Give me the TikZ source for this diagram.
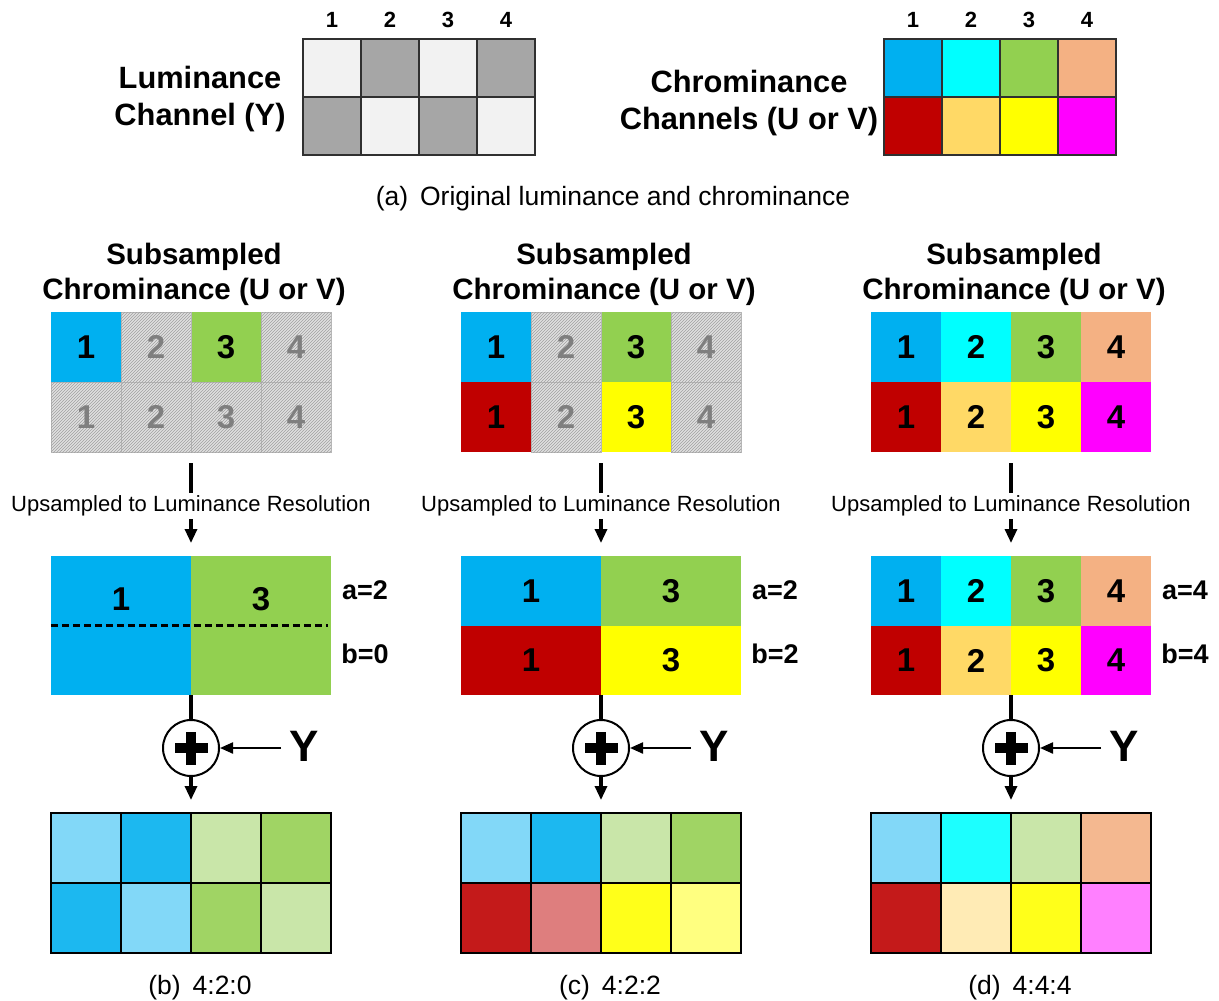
\documentclass[tikz,border=0pt]{standalone}
\usepackage{fontspec}
\setmainfont{Liberation Sans}
\usetikzlibrary{patterns,arrows.meta}
\definecolor{cBlue}{HTML}{00B0F0}
\definecolor{cCyan}{HTML}{00FFFF}
\definecolor{cGreen}{HTML}{92D050}
\definecolor{cPeach}{HTML}{F4B183}
\definecolor{cRed}{HTML}{C00000}
\definecolor{cLYel}{HTML}{FFD966}
\definecolor{cYel}{HTML}{FFFF00}
\definecolor{cMag}{HTML}{FF00FF}
\definecolor{oLBlue}{HTML}{82D8F8}
\definecolor{oBlue}{HTML}{1CB8F0}
\definecolor{oLGreen}{HTML}{C9E6A9}
\definecolor{oGreen}{HTML}{A0D464}
\definecolor{oRed}{HTML}{C41A1A}
\definecolor{oPink}{HTML}{DE7E7E}
\definecolor{oYel}{HTML}{FFFF1A}
\definecolor{oLYel}{HTML}{FFFF80}
\definecolor{oCyan}{HTML}{1CFFFF}
\definecolor{oPeach}{HTML}{F4B890}
\definecolor{oCream}{HTML}{FFEBB5}
\definecolor{oMag}{HTML}{FF80FF}
\definecolor{lumL}{HTML}{F2F2F2}
\definecolor{lumD}{HTML}{A6A6A6}
\definecolor{hatchbg}{HTML}{E0E0E0}
\definecolor{hatchln}{HTML}{A0A0A0}
\definecolor{hatchbd}{HTML}{B8B8B8}
\definecolor{numgray}{HTML}{7F7F7F}
\definecolor{gridln}{HTML}{303030}
\newcommand\myTop{\fontsize{30.8}{37}\selectfont\bfseries}
\newcommand\myTitle{\fontsize{29.5}{35}\selectfont\bfseries}
\newcommand\myNum{\fontsize{33}{40}\selectfont\bfseries}
\newcommand\myCol{\fontsize{22}{26}\selectfont\bfseries}
\newcommand\myCap{\fontsize{26.5}{30}\selectfont}
\newcommand\myUp{\fontsize{22}{26}\selectfont}
\newcommand\myAB{\fontsize{27}{32}\selectfont\bfseries}
\newcommand\myY{\fontsize{44}{50}\selectfont\bfseries}
\begin{document}
\begin{tikzpicture}[x=1pt,y=-1pt,
  cell/.style={rectangle, minimum width=70pt, minimum height=70pt, inner sep=0pt, outer sep=0pt, font=\myNum},
  mcell/.style={cell, minimum height=69.5pt},
  wcell/.style={cell, minimum width=140pt, minimum height=69.5pt},
  hcell/.style={cell, fill=hatchbg, postaction={pattern=north east lines, pattern color=hatchln}, draw=hatchbd, line width=0.6pt, text=numgray},
  gcell/.style={cell, draw=black, line width=1.4pt},
  tcell/.style={rectangle, minimum width=58pt, minimum height=58pt, inner sep=0pt, outer sep=0pt, draw=gridln, line width=1.2pt},
  box/.style={rectangle, inner sep=0pt, outer sep=0pt, minimum width=280pt},
  conn/.style={line width=3.2pt},
  tip/.style={-{Triangle[width=12pt,length=14pt]}},
  ytip/.style={-{Triangle[width=11pt,length=13pt]}},
  plus/.style={circle, draw, line width=2pt, minimum size=56pt, inner sep=0pt, fill=white},
  uptext/.style={font=\myUp, fill=white, inner sep=3pt},
  toplab/.style={font=\myTop, align=center},
  ttl/.style={font=\myTitle, align=center},
  capt/.style={font=\myCap},
  ablab/.style={font=\myAB}
]
\useasboundingbox (0,0) rectangle (1219,1001);

% ---------------- (a) top ----------------
\node[toplab] (lumlab) at (200,99.5) {Luminance\\Channel (Y)};
\foreach \x/\y/\c in {332/68/lumL, 390/68/lumD, 448/68/lumL, 506/68/lumD,
                      332/126/lumD, 390/126/lumL, 448/126/lumD, 506/126/lumL}
  \node[tcell, fill=\c] (lum-\x-\y) at (\x,\y) {};
\foreach \x/\t in {332/1, 390/2, 448/3, 506/4}
  \node[font=\myCol] (lumcol-\t) at (\x,20) {\t};

\node[toplab] (chrlab) at (749,103) {Chrominance\\Channels (U or V)};
\foreach \x/\y/\c in {913/68/cBlue, 971/68/cCyan, 1029/68/cGreen, 1087/68/cPeach,
                      913/126/cRed, 971/126/cLYel, 1029/126/cYel, 1087/126/cMag}
  \node[tcell, fill=\c] (chr-\x-\y) at (\x,\y) {};
\foreach \x/\t in {913/1, 971/2, 1029/3, 1087/4}
  \node[font=\myCol] (chrcol-\t) at (\x,20) {\t};

\node[capt] (capa) at (613,199) {(a)\hspace{0.45em}Original luminance and chrominance};

% ---------------- (b) 4:2:0 ----------------
\node[ttl] (tb) at (194,274) {Subsampled\\Chrominance (U or V)};
\foreach \x/\y/\c/\t in {86/347/cBlue/1, 226/347/cGreen/3}
  \node[cell, fill=\c] (sbc-\x-\y) at (\x,\y) {\t};
\foreach \x/\y/\t in {156/347/2, 296/347/4, 86/417/1, 156/417/2, 226/417/3, 296/417/4}
  \node[hcell] (sbh-\x-\y) at (\x,\y) {\t};
\node[box, minimum height=140pt] (sb) at (191,382) {};

\node[rectangle, fill=cBlue, minimum width=140pt, minimum height=139pt, inner sep=0pt] (mb1) at (121,625.5) {};
\node[rectangle, fill=cGreen, minimum width=140pt, minimum height=139pt, inner sep=0pt] (mb3) at (261,625.5) {};
\node[font=\myNum] (mbn1) at (121,599) {1};
\node[font=\myNum] (mbn3) at (261,599) {3};
\draw[line width=2.2pt, dash pattern=on 7pt off 4pt] (mb1.west) -- ([xshift=-3pt]mb3.east);
\node[box, minimum height=139pt] (mb) at (191,625.5) {};
\node[ablab] (ab-a) at (365,590) {a=2};
\node[ablab] (ab-b) at (365,654) {b=0};

\foreach \x/\y/\c in {86/848/oLBlue, 156/848/oBlue, 226/848/oLGreen, 296/848/oGreen,
                      86/918/oBlue, 156/918/oLBlue, 226/918/oGreen, 296/918/oLGreen}
  \node[gcell, fill=\c] (bb-\x-\y) at (\x,\y) {};
\node[box, minimum height=140pt] (bb) at (191,883) {};
\node[capt] (capb) at (200,988) {(b)\hspace{0.45em}4:2:0};

\node[plus] (pb) at (191,748) {};
\fill (pb.center) +(-16.5,-5) rectangle +(16.5,5);
\fill (pb.center) +(-5,-16.5) rectangle +(5,16.5);
\node[font=\myY, inner sep=0pt] (yb) at (304,746) {Y};

\draw[conn, tip, shorten <=11pt, shorten >=13pt] (sb.south) -- (mb.north);
\node[uptext] (ub) at (191,506) {Upsampled to Luminance Resolution};
\draw[conn] (mb.south) -- (pb.north);
\draw[conn, tip, shorten >=13pt] (pb.south) -- (bb.north);
\draw[line width=2.2pt, ytip, shorten <=8pt] (yb.west |- pb.east) -- (pb.east);

% ---------------- (c) 4:2:2 ----------------
\node[ttl] (tc) at (604,274) {Subsampled\\Chrominance (U or V)};
\foreach \x/\y/\c/\t in {496/347/cBlue/1, 636/347/cGreen/3, 496/417/cRed/1, 636/417/cYel/3}
  \node[cell, fill=\c] (scc-\x-\y) at (\x,\y) {\t};
\foreach \x/\y/\t in {566/347/2, 706/347/4, 566/417/2, 706/417/4}
  \node[hcell] (sch-\x-\y) at (\x,\y) {\t};
\node[box, minimum height=140pt] (sc) at (601,382) {};

\foreach \x/\y/\c/\t in {531/591/cBlue/1, 671/591/cGreen/3, 531/660.5/cRed/1, 671/660.5/cYel/3}
  \node[wcell, fill=\c] (mcc-\x-\y) at (\x,\y) {\t};
\node[box, minimum height=139pt] (mc) at (601,625.5) {};
\node[ablab] (ac-a) at (775,590) {a=2};
\node[ablab] (ac-b) at (775,654) {b=2};

\foreach \x/\y/\c in {496/848/oLBlue, 566/848/oBlue, 636/848/oLGreen, 706/848/oGreen,
                      496/918/oRed, 566/918/oPink, 636/918/oYel, 706/918/oLYel}
  \node[gcell, fill=\c] (bc-\x-\y) at (\x,\y) {};
\node[box, minimum height=140pt] (bc) at (601,883) {};
\node[capt] (capc) at (610,988) {(c)\hspace{0.45em}4:2:2};

\node[plus] (pc) at (601,748) {};
\fill (pc.center) +(-16.5,-5) rectangle +(16.5,5);
\fill (pc.center) +(-5,-16.5) rectangle +(5,16.5);
\node[font=\myY, inner sep=0pt] (yc) at (714,746) {Y};

\draw[conn, tip, shorten <=11pt, shorten >=13pt] (sc.south) -- (mc.north);
\node[uptext] (uc) at (601,506) {Upsampled to Luminance Resolution};
\draw[conn] (mc.south) -- (pc.north);
\draw[conn, tip, shorten >=13pt] (pc.south) -- (bc.north);
\draw[line width=2.2pt, ytip, shorten <=8pt] (yc.west |- pc.east) -- (pc.east);

% ---------------- (d) 4:4:4 ----------------
\node[ttl] (td) at (1014,274) {Subsampled\\Chrominance (U or V)};
\foreach \x/\y/\c/\t in {906/347/cBlue/1, 976/347/cCyan/2, 1046/347/cGreen/3, 1116/347/cPeach/4,
                         906/417/cRed/1, 976/417/cLYel/2, 1046/417/cYel/3, 1116/417/cMag/4}
  \node[cell, fill=\c] (sdc-\x-\y) at (\x,\y) {\t};
\node[box, minimum height=140pt] (sd) at (1011,382) {};

\foreach \x/\y/\c/\t in {906/591/cBlue/1, 976/591/cCyan/2, 1046/591/cGreen/3, 1116/591/cPeach/4,
                         906/660.5/cRed/1, 976/660.5/cLYel/2, 1046/660.5/cYel/3, 1116/660.5/cMag/4}
  \node[mcell, fill=\c] (mdc-\x-\y) at (\x,\y) {\t};
\node[box, minimum height=139pt] (md) at (1011,625.5) {};
\node[ablab] (ad-a) at (1185,590) {a=4};
\node[ablab] (ad-b) at (1185,654) {b=4};

\foreach \x/\y/\c in {906/848/oLBlue, 976/848/oCyan, 1046/848/oLGreen, 1116/848/oPeach,
                      906/918/oRed, 976/918/oCream, 1046/918/oYel, 1116/918/oMag}
  \node[gcell, fill=\c] (bd-\x-\y) at (\x,\y) {};
\node[box, minimum height=140pt] (bd) at (1011,883) {};
\node[capt] (capd) at (1020,988) {(d)\hspace{0.45em}4:4:4};

\node[plus] (pd) at (1011,748) {};
\fill (pd.center) +(-16.5,-5) rectangle +(16.5,5);
\fill (pd.center) +(-5,-16.5) rectangle +(5,16.5);
\node[font=\myY, inner sep=0pt] (yd) at (1124,746) {Y};

\draw[conn, tip, shorten <=11pt, shorten >=13pt] (sd.south) -- (md.north);
\node[uptext] (ud) at (1011,506) {Upsampled to Luminance Resolution};
\draw[conn] (md.south) -- (pd.north);
\draw[conn, tip, shorten >=13pt] (pd.south) -- (bd.north);
\draw[line width=2.2pt, ytip, shorten <=8pt] (yd.west |- pd.east) -- (pd.east);
\end{tikzpicture}
\end{document}
